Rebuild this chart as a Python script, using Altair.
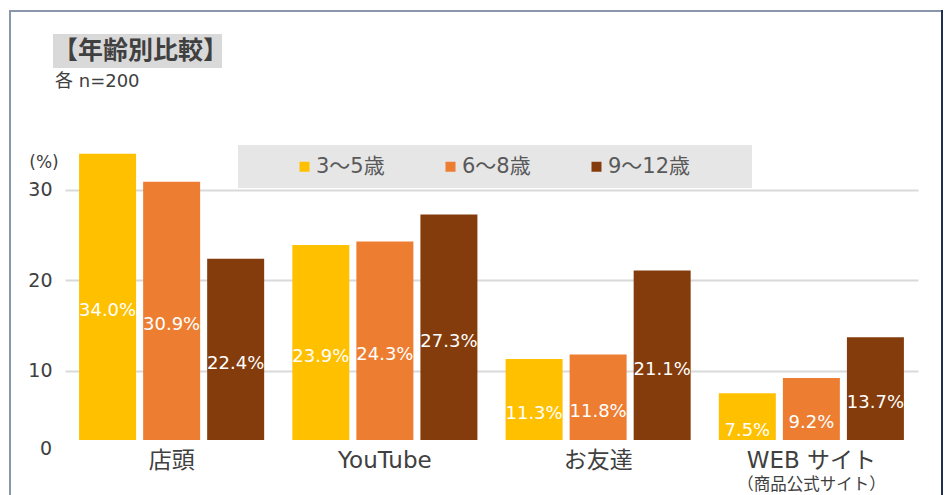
import altair as alt
import pandas as pd

categories = ["店頭", "YouTube", "お友達", "WEB サイト"]
sublabels = ["", "", "", "（商品公式サイト）"]
ages = ["3～5歳", "6～8歳", "9～12歳"]
values_3_5 = [34.0, 23.9, 11.3, 7.5]
values_6_8 = [30.9, 24.3, 11.8, 9.2]
values_9_12 = [22.4, 27.3, 21.1, 13.7]
colors = ["#FFC000", "#ED7D31", "#843C0C"]
title_text = "【年齢別比較】"
subtitle_text = "各 n=200"
y_ticks = [10, 20, 30]

rows = []
for age, vals in zip(ages, [values_3_5, values_6_8, values_9_12]):
    for c, v in zip(categories, vals):
        rows.append({"cat": c, "age": age, "value": v, "label": f"{v:.1f}%"})
df = pd.DataFrame(rows)

W, H = 853, 295
FONT = "DejaVu Sans, Noto Sans CJK JP, sans-serif"
JFONT = "Noto Sans CJK JP, sans-serif"

xenc = alt.X("cat:N", sort=categories, title=None,
             scale=alt.Scale(paddingInner=0, paddingOuter=0),
             axis=alt.Axis(labelFontSize=23, labelColor="#404040", labelPadding=9,
                           labelBaseline="top", labelFont=FONT, ticks=False, domain=False,
                           labelAngle=0, labelLineHeight=22))
xoff = alt.XOffset("age:N", sort=ages, scale=alt.Scale(paddingInner=0.11, paddingOuter=0.22))
yscale = alt.Scale(domain=[2.325, 34.98], zero=False, nice=False)
yaxis = alt.Axis(values=y_ticks, labelFontSize=19, labelColor="#404040",
                 labelPadding=13, ticks=False, domain=False, labelFont=FONT,
                 gridColor="#d9d9d9", gridWidth=2)

base = alt.Chart(df)

shadow = base.mark_bar(clip=True, color="#000000", opacity=0.0, stroke="#000000",
                       strokeWidth=5, strokeOpacity=0.13).encode(
    x=xenc,
    xOffset=xoff,
    y=alt.Y("value:Q", scale=yscale, title=None, axis=yaxis),
)

bars = base.mark_bar(clip=True).encode(
    x=xenc,
    xOffset=xoff,
    y=alt.Y("value:Q", scale=yscale, title=None, axis=yaxis),
    color=alt.Color("age:N", sort=ages, scale=alt.Scale(domain=ages, range=colors),
                    legend=alt.Legend(title=None, orient="none", legendX=229, legendY=11,
                                      direction="horizontal", symbolType="square",
                                      symbolSize=100, symbolStrokeWidth=0,
                                      labelFontSize=21, labelColor="#595959", labelFont=FONT,
                                      labelOffset=1, columnPadding=55)),
)

labels = base.transform_calculate(half="datum.value / 2").mark_text(
    color="white", fontSize=18, font=FONT, baseline="middle", dy=4
).encode(
    x=alt.X("cat:N", sort=categories),
    xOffset=alt.XOffset("age:N", sort=ages),
    y=alt.Y("half:Q"),
    text="label:N",
)

sub_df = pd.DataFrame({"cat": categories, "sub": sublabels})
subs = alt.Chart(sub_df).mark_text(fontSize=16.5, color="#404040", font=JFONT,
                                   baseline="middle").encode(
    x=alt.X("cat:N", sort=categories),
    y=alt.value(H + 45),
    text="sub:N",
)

one = pd.DataFrame({"k": [0]})
legend_bg = alt.Chart(one).mark_rect(color="#e6e6e6").encode(
    x=alt.value(173), x2=alt.value(687), y=alt.value(0), y2=alt.value(43))

title_bg = alt.Chart(one).mark_rect(color="#d9d9d9").encode(
    x=alt.value(-12), x2=alt.value(157), y=alt.value(-111), y2=alt.value(-77))
title = alt.Chart(pd.DataFrame({"t": [title_text]})).mark_text(
    fontSize=25, fontWeight="bold", color="#404040", font=JFONT, align="left",
    baseline="middle").encode(x=alt.value(-12), y=alt.value(-94), text="t:N")
subtitle = alt.Chart(pd.DataFrame({"t": [subtitle_text]})).mark_text(
    fontSize=18, color="#404040", font=FONT, align="left", baseline="middle").encode(
    x=alt.value(-10), y=alt.value(-63), text="t:N")
pct = alt.Chart(pd.DataFrame({"t": ["(%)"]})).mark_text(
    fontSize=17, color="#404040", font=FONT, align="center", baseline="middle").encode(
    x=alt.value(-21), y=alt.value(18), text="t:N")
zero = alt.Chart(pd.DataFrame({"t": ["0"]})).mark_text(
    fontSize=19, color="#404040", font=FONT, align="right", baseline="middle").encode(
    x=alt.value(-13), y=alt.value(304), text="t:N")

frame_left = alt.Chart(one).mark_rule(color="#8a97aa", strokeWidth=2).encode(
    x=alt.value(-55), y=alt.value(-135), y2=alt.value(360))
frame_top = alt.Chart(one).mark_rule(color="#8a97aa", strokeWidth=2).encode(
    x=alt.value(-55), x2=alt.value(877), y=alt.value(-134))
frame_right = alt.Chart(one).mark_rule(color="#1f3050", strokeWidth=2).encode(
    x=alt.value(877), y=alt.value(-135), y2=alt.value(360))

chart = alt.layer(
    legend_bg, shadow, bars, labels, subs, title_bg, title, subtitle, pct, zero,
    frame_left, frame_top, frame_right
).properties(
    width=W, height=H,
    background="white",
    autosize=alt.AutoSizeParams(type="none"),
    padding={"left": 65, "top": 145, "right": 30, "bottom": 55},
).configure_view(strokeWidth=0, stroke="transparent")

chart.save("out.html", embed_options={"renderer": "svg", "actions": False})
